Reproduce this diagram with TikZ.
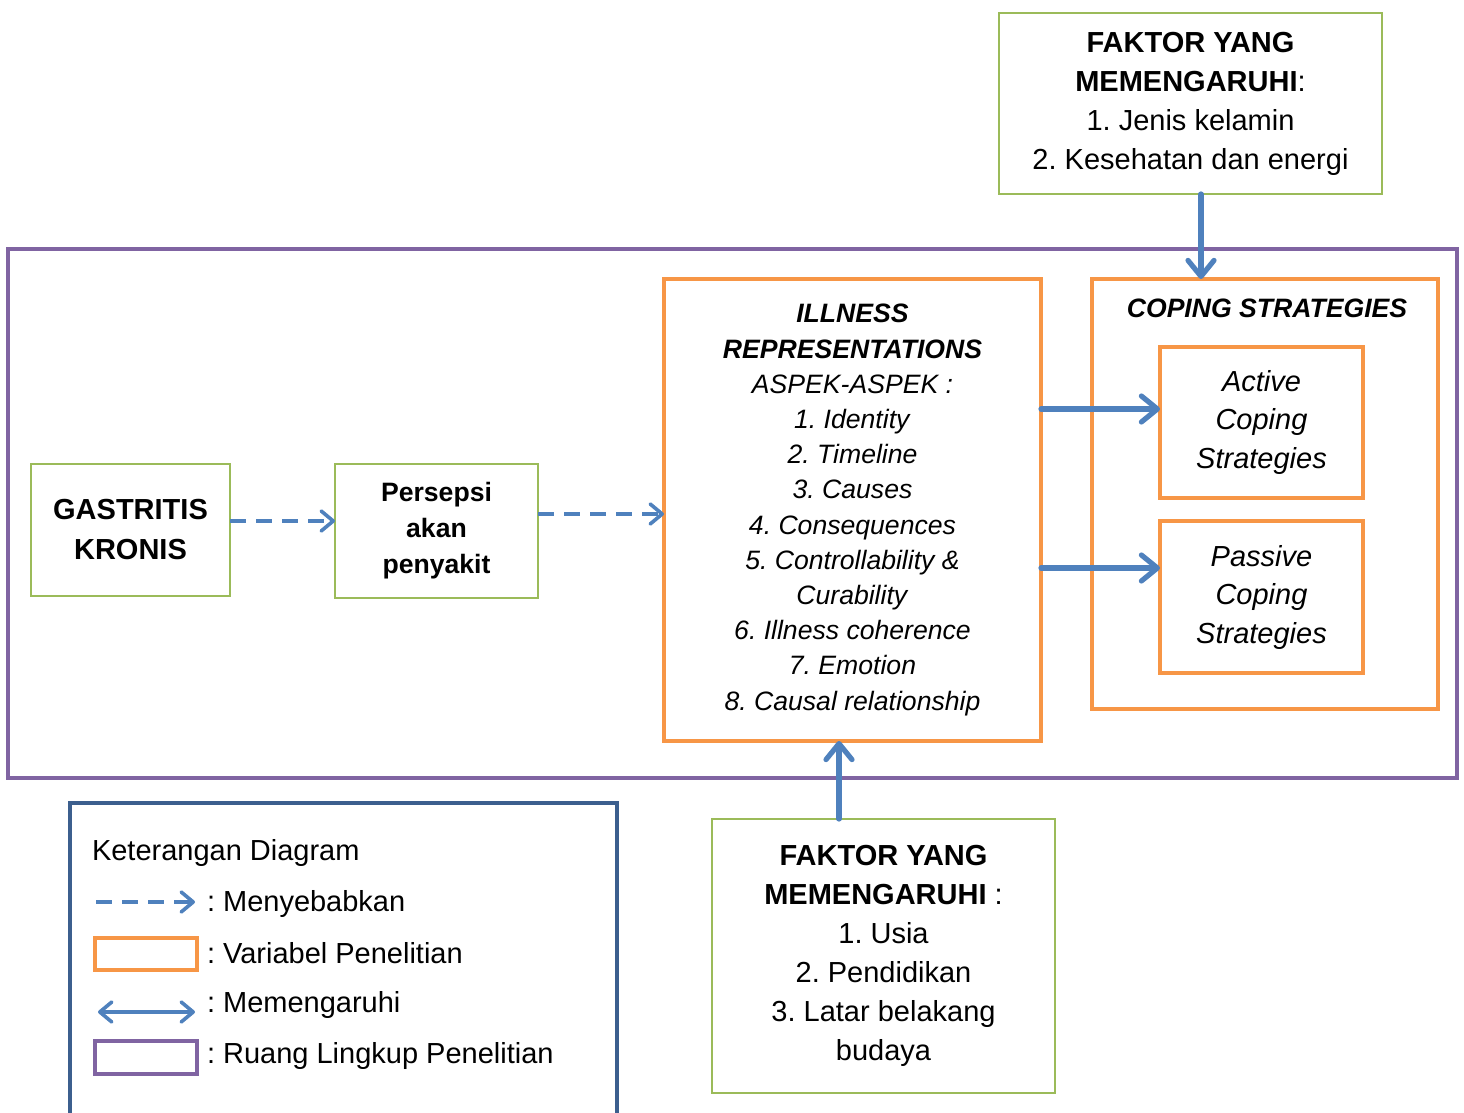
\documentclass[tikz,border=0pt]{standalone}
\usepackage{fontspec}
\setmainfont{Liberation Sans}
\usetikzlibrary{arrows.meta}
\definecolor{cgreen}{HTML}{9BBB59}
\definecolor{corange}{HTML}{F79646}
\definecolor{cpurple}{HTML}{8064A2}
\definecolor{cblue}{HTML}{4F81BD}
\definecolor{cdark}{HTML}{3C5F8E}
\frenchspacing
\begin{document}
\begin{tikzpicture}[x=0.5pt,y=-0.5pt,
  every node/.style={inner sep=0pt,outer sep=0pt},
  fbig/.style={font=\fontsize{14.5}{19.5}\selectfont},
  fcop/.style={font=\fontsize{14.5}{19.25}\selectfont},
  fill/.style={font=\fontsize{13.3}{17.6}\selectfont},
  greenbox/.style={draw=cgreen,line width=1pt,rectangle,align=center},
  orangebox/.style={draw=corange,line width=2.4pt,rectangle,align=center},
  purplebox/.style={draw=cpurple,line width=2pt,rectangle},
  solidarrow/.style={draw=cblue,line width=2.6pt,line join=round,line cap=round,-{Straight Barb[length=8pt,width=13pt,line join=round,line cap=round]}},
  dasharrow/.style={draw=cblue,line width=1.8pt,dash pattern=on 8pt off 5pt,-{Straight Barb[length=6pt,width=10pt,line join=round,line cap=round]}},
  dblarrow/.style={draw=cblue,line width=1.8pt,{Straight Barb[length=6pt,width=10pt,line join=round,line cap=round]}-{Straight Barb[length=6pt,width=10pt,line join=round,line cap=round]}},
  legtext/.style={anchor=west,fbig}
]
\useasboundingbox (0,0) rectangle (1464,1113);
\fill[white] (0,0) rectangle (1464,1113);

% scope box
\node[purplebox,minimum width=724.5pt,minimum height=264.5pt] (scope) at (732.5,513.5) {};

% top factor box
\node[greenbox,fbig,minimum width=191.5pt,minimum height=90.5pt] (topF) at (1190.5,103.5)
 {\textbf{FAKTOR YANG}\\\textbf{MEMENGARUHI}:\\1. Jenis kelamin\\2. Kesehatan dan energi};

% illness representations
\node[orangebox,fill,minimum width=188.5pt,minimum height=231pt] (ill) at (852.5,510)
 {\textbf{\textit{ILLNESS}}\\\textbf{\textit{REPRESENTATIONS}}\\\textit{ASPEK-ASPEK :}\\
  \textit{1. Identity}\\\textit{2. Timeline}\\\textit{3. Causes}\\\textit{4. Consequences}\\
  \textit{5. Controllability \&}\\\textit{Curability}\\\textit{6. Illness coherence}\\
  \textit{7. Emotion}\\\textit{8. Causal relationship}};

% coping strategies
\node[orangebox,minimum width=173pt,minimum height=215pt] (cop) at (1265,494) {};
\node[fill] (coptitle) at (1267,308) {\textbf{\textit{COPING STRATEGIES}}};
\node[orangebox,fcop,minimum width=101.5pt,minimum height=75.5pt] (act) at (1261.5,422.5)
 {\textit{Active}\\\textit{Coping}\\\textit{Strategies}};
\node[orangebox,fcop,minimum width=101.5pt,minimum height=76pt] (pas) at (1261.5,597)
 {\textit{Passive}\\\textit{Coping}\\\textit{Strategies}};

% left boxes
\node[greenbox,font=\fontsize{14.5}{20}\selectfont,minimum width=99.5pt,minimum height=66pt] (gas) at (130.5,530)
 {\textbf{GASTRITIS}\\\textbf{KRONIS}};
\node[greenbox,font=\fontsize{13.3}{18}\selectfont,minimum width=101.5pt,minimum height=67pt] (per) at (436.5,531)
 {\textbf{Persepsi}\\\textbf{akan}\\\textbf{penyakit}};

% bottom factor box
\node[greenbox,fbig,minimum width=171.5pt,minimum height=137pt] (botF) at (883.5,956)
 {\textbf{FAKTOR YANG}\\\textbf{MEMENGARUHI} :\\1. Usia\\2. Pendidikan\\3. Latar belakang\\budaya};

% connectors
\draw[dasharrow] ([yshift=4.5pt]gas.east) -- ([yshift=5pt]per.west);
\draw[dasharrow] ([yshift=8.5pt]per.east) -- ([yshift=-2pt]ill.west);
\draw[solidarrow] ([yshift=50.5pt]ill.east) -- ([yshift=6.75pt]act.west);
\draw[solidarrow] ([yshift=-29pt]ill.east) -- ([yshift=14.5pt]pas.west);
\draw[solidarrow] ([xshift=5.25pt]topF.south) -- ([xshift=-32pt]cop.north);
\draw[solidarrow] ([xshift=-22.25pt]botF.north) -- ([xshift=-6.75pt]ill.south);

% legend
\draw[draw=cdark,line width=2pt] (70,1125) -- (70,803) -- (617,803) -- (617,1125);
\node[legtext] (legtitle) at (92,853) {Keterangan Diagram};
\coordinate (l1a) at (96,902);
\coordinate (l1b) at (195,902);
\draw[dasharrow] (l1a) -- (l1b);
\node[legtext] (leg1) at (207,904) {: Menyebabkan};
\node[draw=corange,line width=2.4pt,minimum width=51pt,minimum height=16pt] (leg2box) at (146,954) {};
\node[legtext] (leg2) at (207,953) {: Variabel Penelitian};
\coordinate (l3a) at (98,1012);
\coordinate (l3b) at (195,1012);
\draw[dblarrow] (l3a) -- (l3b);
\node[legtext] (leg3) at (207,1005) {: Memengaruhi};
\node[draw=cpurple,line width=2pt,minimum width=51pt,minimum height=16.5pt] (leg4box) at (146,1057.5) {};
\node[legtext] (leg4) at (207,1056) {: Ruang Lingkup Penelitian};
\end{tikzpicture}
\end{document}
